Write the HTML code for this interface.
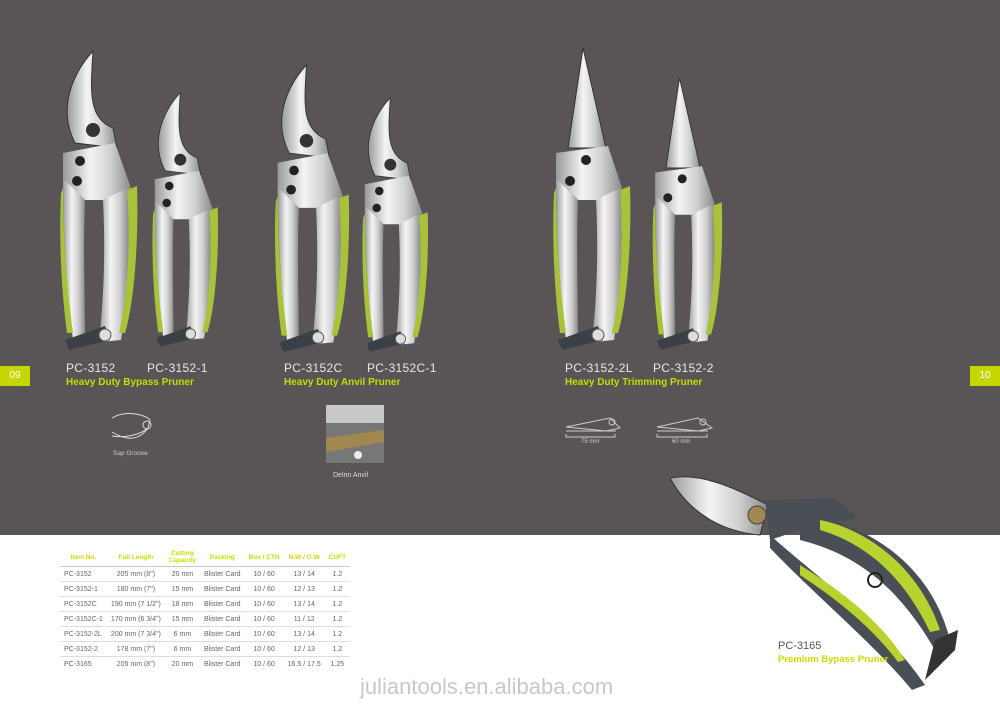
<!DOCTYPE html>
<html><head><meta charset="utf-8"><style>
body{margin:0;width:1000px;height:711px;overflow:hidden;background:#fff;font-family:"Liberation Sans",sans-serif;position:relative}
.top{position:absolute;left:0;top:0;width:1000px;height:535px;background:#595556}
.t{position:absolute;white-space:nowrap}
.m{color:#e8e8e8;font-size:12px;letter-spacing:.3px}
.g{color:#c8dc00;font-size:10px;font-weight:bold}
.tab{position:absolute;background:#c5d600;color:#fff;font-size:10px;line-height:20px;height:20px}
table{position:absolute;left:60px;top:548px;border-collapse:collapse;font-size:7px;color:#666}
td,th{padding:0 4px;text-align:center;height:14px;border-bottom:1px solid #ddd}
th{color:#c8dc00;font-size:6.5px;height:18px;border-bottom:1px solid #ccc}
td:first-child{text-align:left}
</style></head><body>
<div class="top"></div>
<svg width="1000" height="711" style="position:absolute;left:0;top:0">
<defs>
<linearGradient id="s" x1="0" x2="1"><stop offset="0" stop-color="#9a9a9a"/><stop offset=".4" stop-color="#f4f4f4"/><stop offset=".7" stop-color="#d0d0d0"/><stop offset="1" stop-color="#8a8a8a"/></linearGradient>
<g id="p">
<path d="M20,95 C2,60 18,25 38,3 C36,40 32,70 58,80 L62,100 Z" fill="url(#s)" stroke="#333" stroke-width="1"/>
<path d="M8,105 L60,95 L76,140 L70,152 L30,152 L8,130 Z" fill="url(#s)"/>
<circle cx="38" cy="82" r="7" fill="#333"/>
<circle cx="25" cy="113" r="5" fill="#222"/><circle cx="22" cy="133" r="5" fill="#222"/>
<path d="M8,130 L30,152 C28,200 30,250 30,290 L18,292 C12,240 8,190 8,130 Z" fill="url(#s)"/>
<path d="M8,140 C8,190 12,240 18,285 L12,285 C6,240 4,190 6,145 Z" fill="#a8c23a"/>
<path d="M48,152 L72,140 C76,200 72,260 66,292 L44,294 C50,240 50,190 48,152 Z" fill="url(#s)"/>
<path d="M72,142 L82,138 C84,200 78,260 70,285 L64,285 C72,250 76,200 72,142 Z" fill="#a8c23a"/>
<path d="M10,292 L50,278 L55,292 L14,302 Z" fill="#3a4046"/>
<circle cx="50" cy="287" r="6" fill="#ddd" stroke="#555"/>
</g>
<g id="q">
<path d="M20,100 L35,0 L58,100 Z" fill="url(#s)" stroke="#333" stroke-width="1"/>
<path d="M8,105 L60,98 L74,140 L68,152 L30,152 L8,130 Z" fill="url(#s)"/>
<circle cx="38" cy="112" r="5" fill="#222"/><circle cx="22" cy="133" r="5" fill="#222"/>
<path d="M8,130 L30,152 C28,200 30,250 30,290 L18,292 C12,240 8,190 8,130 Z" fill="url(#s)"/>
<path d="M8,140 C8,190 12,240 18,285 L12,285 C6,240 4,190 6,145 Z" fill="#a8c23a"/>
<path d="M48,152 L72,140 C76,200 72,260 66,292 L44,294 C50,240 50,190 48,152 Z" fill="url(#s)"/>
<path d="M72,142 L82,138 C84,200 78,260 70,285 L64,285 C72,250 76,200 72,142 Z" fill="#a8c23a"/>
<path d="M10,292 L50,278 L55,292 L14,302 Z" fill="#3a4046"/>
<circle cx="50" cy="287" r="6" fill="#ddd" stroke="#555"/>
</g>
</defs>
<use href="#p" transform="translate(55,48)"/>
<use href="#p" transform="translate(148,90) scale(0.85)"/>
<use href="#p" transform="translate(270,62) scale(0.96)"/>
<use href="#p" transform="translate(358,95) scale(0.85)"/>
<use href="#q" transform="translate(548,48)"/>
<use href="#q" transform="translate(648,78) scale(0.9)"/>
<path d="M112,418 C125,410 145,414 150,420 L148,428 C140,435 125,438 112,436 M112,432 C125,440 138,442 148,428" stroke="#ddd" fill="none"/>
<circle cx="147" cy="425" r="4" stroke="#ddd" fill="none"/>
<rect x="326" y="405" width="58" height="58" fill="#777"/>
<rect x="326" y="405" width="58" height="18" fill="#c8c8c8"/>
<path d="M326,438 L384,430 L384,442 L326,452 Z" fill="#a08850"/>
<circle cx="358" cy="455" r="4" fill="#eee"/>
<path d="M566,427 L610,418 L620,428 L606,431 Z M566,431 L616,431" stroke="#ccc" fill="none"/>
<circle cx="612" cy="422" r="3" stroke="#ccc" fill="none"/>
<path d="M566,434 L566,437 L615,437 L615,434" stroke="#ccc" fill="none"/>
<path d="M657,427 L698,418 L712,428 L698,431 Z M657,431 L708,431" stroke="#ccc" fill="none"/>
<circle cx="703" cy="422" r="3" stroke="#ccc" fill="none"/>
<path d="M657,434 L657,437 L707,437 L707,434" stroke="#ccc" fill="none"/>
<path d="M670,478 C700,472 735,488 768,505 L760,535 C725,532 690,515 670,478 Z" fill="url(#s)" stroke="#333"/>
<circle cx="757" cy="515" r="9" fill="#a08850" stroke="#444"/>
<path d="M765,500 L835,498 L858,518 L800,530 L770,540 Z" fill="#4a4f55"/>
<path d="M800,515 C860,520 930,560 950,640 L935,650 C900,590 860,555 800,540 Z" fill="#4a4f55"/>
<path d="M820,520 C870,530 920,570 940,630 L930,632 C905,580 870,545 820,530 Z" fill="#b8d230"/>
<path d="M770,535 C820,580 880,620 925,685 L912,690 C870,640 820,600 770,548 Z" fill="#4a4f55"/>
<path d="M800,565 C840,590 880,620 905,660 L898,662 C870,625 835,598 800,575 Z" fill="#b8d230"/>
<circle cx="875" cy="580" r="7" fill="none" stroke="#222" stroke-width="2"/>
<path d="M935,640 L958,630 L955,650 L925,680 Z" fill="#333"/>
</svg>
<div class="tab" style="left:0;top:366px;width:30px;text-align:center">09</div>
<div class="tab" style="left:970px;top:366px;width:30px;text-align:center">10</div>
<div class="t m" style="left:66px;top:361px">PC-3152</div>
<div class="t m" style="left:147px;top:361px">PC-3152-1</div>
<div class="t g" style="left:66px;top:377px">Heavy Duty Bypass Pruner</div>
<div class="t m" style="left:284px;top:361px">PC-3152C</div>
<div class="t m" style="left:367px;top:361px">PC-3152C-1</div>
<div class="t g" style="left:284px;top:377px">Heavy Duty Anvil Pruner</div>
<div class="t m" style="left:565px;top:361px">PC-3152-2L</div>
<div class="t m" style="left:653px;top:361px">PC-3152-2</div>
<div class="t g" style="left:565px;top:377px">Heavy Duty Trimming Pruner</div>
<div class="t" style="left:113px;top:450px;font-size:6.5px;color:#ccc">Sap Groove</div>
<div class="t" style="left:333px;top:472px;font-size:7px;color:#ddd">Delrin Anvil</div>
<div class="t" style="left:581px;top:439px;font-size:6px;color:#ccc">75 mm</div>
<div class="t" style="left:672px;top:439px;font-size:6px;color:#ccc">60 mm</div>
<div class="t" style="left:778px;top:640px;font-size:11px;color:#555">PC-3165</div>
<div class="t" style="left:778px;top:654px;font-size:9.5px;font-weight:bold;color:#c8dc00">Premium Bypass Pruner</div>
<table>
<tr><th>Item No.</th><th>Full Length</th><th>Cutting<br>Capacity</th><th>Packing</th><th>Box / CTN</th><th>N.W / G.W</th><th>CUFT</th></tr>
<tr><td>PC-3152</td><td>205 mm (8")</td><td>20 mm</td><td>Blister Card</td><td>10 / 60</td><td>13 / 14</td><td>1.2</td></tr>
<tr><td>PC-3152-1</td><td>180 mm (7")</td><td>15 mm</td><td>Blister Card</td><td>10 / 60</td><td>12 / 13</td><td>1.2</td></tr>
<tr><td>PC-3152C</td><td>190 mm (7 1/2")</td><td>18 mm</td><td>Blister Card</td><td>10 / 60</td><td>13 / 14</td><td>1.2</td></tr>
<tr><td>PC-3152C-1</td><td>170 mm (6 3/4")</td><td>15 mm</td><td>Blister Card</td><td>10 / 60</td><td>11 / 12</td><td>1.2</td></tr>
<tr><td>PC-3152-2L</td><td>200 mm (7 3/4")</td><td>6 mm</td><td>Blister Card</td><td>10 / 60</td><td>13 / 14</td><td>1.2</td></tr>
<tr><td>PC-3152-2</td><td>178 mm (7")</td><td>6 mm</td><td>Blister Card</td><td>10 / 60</td><td>12 / 13</td><td>1.2</td></tr>
<tr><td style="border:0">PC-3165</td><td style="border:0">205 mm (8")</td><td style="border:0">20 mm</td><td style="border:0">Blister Card</td><td style="border:0">10 / 60</td><td style="border:0">16.5 / 17.5</td><td style="border:0">1.25</td></tr>
</table>
<div class="t" style="left:360px;top:674px;font-size:22px;color:#c8c8c8">juliantools.en.alibaba.com</div>
</body></html>
